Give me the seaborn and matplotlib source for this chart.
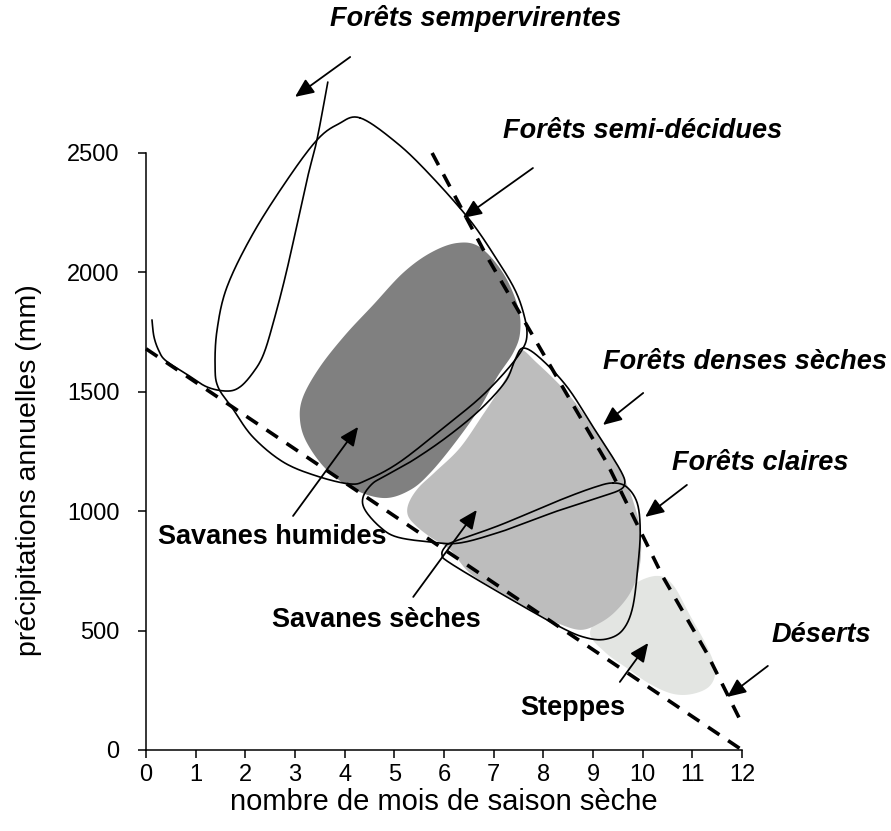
import numpy as np
import matplotlib
matplotlib.use('Agg')
import matplotlib.pyplot as plt
import seaborn as sns

# Zones de vegetation : contours
# (x = mois de saison seche, y = precipitations annuelles en mm)

# zones grisees
humide_x = [6.26, 6.72, 7.19, 7.49, 7.53, 7.39, 7.07, 6.72, 6.22, 5.72, 5.32, 4.81,
            4.21, 3.64, 3.24, 3.10, 3.16, 3.50, 4.01, 4.57, 5.17, 5.72]
humide_y = [2123, 2106, 1997, 1855, 1746, 1662, 1562, 1432, 1286, 1160, 1089, 1055,
            1089, 1173, 1286, 1382, 1478, 1604, 1738, 1863, 1997, 2081]

seche_x = [7.53, 7.87, 8.48, 9.00, 9.40, 9.64, 9.82, 9.95, 9.95, 9.78, 9.48, 9.14, 8.74,
           8.23, 7.79, 7.13, 6.52, 6.12, 5.72, 5.42, 5.27, 5.29, 5.48, 5.82, 6.32, 6.78,
           7.07, 7.33]
seche_y = [1675, 1621, 1495, 1353, 1227, 1131, 1034, 921, 783, 670, 586, 532, 503,
           536, 582, 662, 741, 838, 892, 942, 984, 1034, 1097, 1164, 1265, 1403,
           1495, 1591]

steppe_x = [8.94, 9.24, 9.80, 10.29, 10.61, 10.95, 11.30, 11.46, 11.35, 11.01, 10.61,
            10.15, 9.68, 9.24]
steppe_y = [490, 586, 691, 729, 691, 565, 431, 335, 268, 235, 235, 276, 343, 410]

# contours des forets
semper_x = [0.12, 0.16, 0.26, 0.40, 0.83, 1.23, 1.63, 1.89, 2.15, 2.36, 2.56, 2.84, 3.24,
            3.44, 3.66]
semper_y = [1801, 1730, 1671, 1630, 1572, 1520, 1503, 1520, 1579, 1654, 1788, 2014, 2387,
            2554, 2797]

semidec_x = [4.31, 5.05, 5.72, 6.52, 7.07, 7.43, 7.61, 7.67, 7.57, 7.23, 6.72, 6.06, 5.11,
             4.45, 4.11, 3.44, 2.76, 2.15, 1.75, 1.45, 1.39, 1.43, 1.63, 2.15, 2.84,
             3.44, 3.87]
semidec_y = [2647, 2542, 2408, 2219, 2052, 1926, 1822, 1738, 1675, 1583, 1474, 1361, 1206,
             1131, 1114, 1147, 1206, 1311, 1428, 1520, 1608, 1759, 1939, 2161, 2387,
             2554, 2621]

denses_x = [7.59, 7.93, 8.48, 9.00, 9.34, 9.58, 9.64, 9.54, 9.14, 8.34, 7.79, 7.13, 6.32,
            5.72, 5.05, 4.71, 4.41, 4.37, 4.55, 4.81, 5.38, 6.06, 6.72, 7.23, 7.43]
denses_y = [1683, 1642, 1520, 1353, 1244, 1160, 1118, 1089, 1059, 1005, 963, 913, 867,
            871, 892, 934, 1005, 1059, 1114, 1147, 1214, 1311, 1424, 1541, 1633]

claires_x = [9.40, 9.68, 9.89, 9.95, 9.91, 9.80, 9.60, 9.28, 8.88, 8.34, 7.13, 6.12, 5.96,
             6.02, 6.18, 7.13, 8.34, 9.04]
claires_y = [1118, 1101, 1034, 921, 783, 599, 503, 465, 469, 515, 657, 783, 817,
             850, 871, 942, 1047, 1101]

# limites en tirets
limite_basse_x = [0, 12]
limite_basse_y = [1680, 0]
limite_haute_x = [5.76, 6.87, 8.27, 9.28, 10.41, 11.29, 12.0]
limite_haute_y = [2500, 2064, 1562, 1202, 724, 406, 110]

# etiquettes : texte, position du texte, debut et pointe de la fleche
labels_italic = [
    ("Forêts sempervirentes", (6.64, 3065), (4.11, 2902), (3.00, 2735)),
    ("Forêts semi-décidues", (9.99, 2592), (7.79, 2437), (6.38, 2228)),
    ("Forêts denses sèches", (12.05, 1625), (10.01, 1495), (9.20, 1361)),
    ("Forêts claires", (12.36, 1202), (10.89, 1110), (10.05, 976)),
    ("Déserts", (13.59, 482), (12.52, 352), (11.70, 222)),
]
labels_bold = [
    ("Savanes humides", (2.54, 892), (2.96, 980), (4.27, 1353)),
    ("Savanes sèches", (4.63, 544), (5.38, 641), (6.66, 1005)),
    ("Steppes", (8.60, 176), (9.54, 285), (10.11, 448)),
]

x_ticks = list(range(0, 13))
y_ticks = [0, 500, 1000, 1500, 2000, 2500]


def catmull_rom(xs, ys, closed=True, n=20):
    # courbe lisse passant par les points lus
    pts = np.column_stack([xs, ys]).astype(float)
    if closed:
        pts = np.vstack([pts[-1], pts, pts[0], pts[1]])
    else:
        pts = np.vstack([pts[0], pts, pts[-1]])
    out = []
    t = np.linspace(0, 1, n, endpoint=False)[:, None]
    for i in range(1, len(pts) - 2):
        p0, p1, p2, p3 = pts[i - 1], pts[i], pts[i + 1], pts[i + 2]
        seg = 0.5 * ((2 * p1) + (-p0 + p2) * t + (2 * p0 - 5 * p1 + 4 * p2 - p3) * t ** 2
                     + (-p0 + 3 * p1 - 3 * p2 + p3) * t ** 3)
        out.append(seg)
    out.append(pts[-2][None, :])
    out = np.vstack(out)
    return out[:, 0], out[:, 1]


sns.set_theme(style='ticks')
plt.rcParams['font.family'] = ['Liberation Sans', 'DejaVu Sans']
plt.rcParams['text.color'] = 'black'
plt.rcParams['axes.labelcolor'] = 'black'

fig = plt.figure(figsize=(8.91, 8.31), dpi=100)
ax = fig.add_axes([0.1639, 0.0975, 0.6689, 0.7184])

# zones grisees
for xs, ys, col in [(steppe_x, steppe_y, '#e3e5e2'),
                    (seche_x, seche_y, '#bdbdbd'),
                    (humide_x, humide_y, '#808080')]:
    cx, cy = catmull_rom(xs, ys)
    ax.fill(cx, cy, color=col, lw=0, zorder=1)

# contours fins
for xs, ys, closed in [(semper_x, semper_y, False),
                       (semidec_x, semidec_y, True),
                       (denses_x, denses_y, True),
                       (claires_x, claires_y, True)]:
    cx, cy = catmull_rom(xs, ys, closed=closed)
    sns.lineplot(x=cx, y=cy, sort=False, estimator=None, color='black',
                 lw=1.2, ax=ax, clip_on=False, zorder=3)

# limites en tirets
for xs, ys in [(limite_basse_x, limite_basse_y), (limite_haute_x, limite_haute_y)]:
    sns.lineplot(x=xs, y=ys, sort=False, estimator=None, color='black', lw=2.6,
                 ax=ax, clip_on=False, zorder=4, linestyle=(0, (3.8, 2.9)))

arrow = dict(arrowstyle='-|>,head_length=0.95,head_width=0.42', color='black',
             lw=1.3, shrinkA=0, shrinkB=0)
for txt, pos, tail, tip in labels_italic:
    ax.text(pos[0], pos[1], txt, ha='center', va='center', fontsize=19.5,
            fontweight='bold', fontstyle='italic', clip_on=False)
    ax.annotate('', xy=tip, xytext=tail, arrowprops=arrow, annotation_clip=False, zorder=5)
for txt, pos, tail, tip in labels_bold:
    ax.text(pos[0], pos[1], txt, ha='center', va='center', fontsize=19.5,
            fontweight='bold', clip_on=False)
    ax.annotate('', xy=tip, xytext=tail, arrowprops=arrow, annotation_clip=False, zorder=5)

ax.set_xlim(0, 12)
ax.set_ylim(0, 2500)
ax.set_xticks(x_ticks)
ax.set_yticks(y_ticks)
sns.despine(ax=ax)
for s in ['left', 'bottom']:
    ax.spines[s].set_linewidth(1.1)
    ax.spines[s].set_color('black')
ax.tick_params(direction='out', length=6, width=1.1, colors='black', labelsize=17)
ax.tick_params(axis='y', pad=13)
ax.tick_params(axis='x', pad=4)
ax.set_xlabel('nombre de mois de saison sèche', fontsize=21)
ax.set_ylabel('précipitations annuelles (mm)', fontsize=20.5)
ax.xaxis.set_label_coords(0.5, -0.063)
ax.yaxis.set_label_coords(-0.1745, 0.469)

plt.savefig('out.png', dpi=100)
